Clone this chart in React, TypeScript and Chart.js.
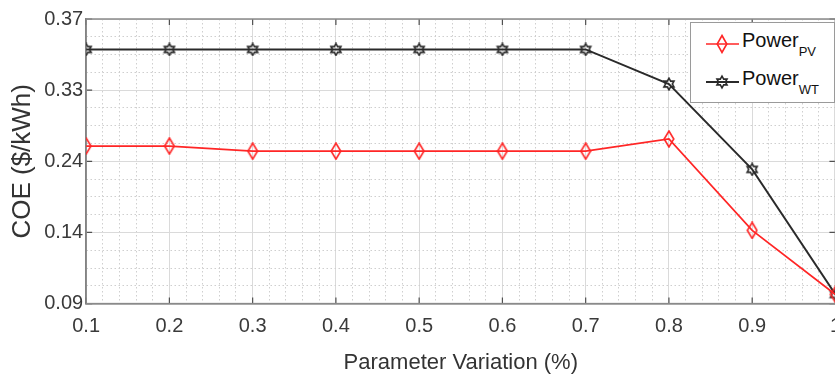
import React, { useEffect, useRef } from "react";
import { Chart, registerables } from "chart.js";

Chart.register(...registerables);

// ---- data ----
const xValues = [0.1, 0.2, 0.3, 0.4, 0.5, 0.6, 0.7, 0.8, 0.9, 1.0];
const xTickLabels = ["0.1", "0.2", "0.3", "0.4", "0.5", "0.6", "0.7", "0.8", "0.9", "1"];
const yTickLabels = ["0.09", "0.14", "0.24", "0.33", "0.37"];
const powerPV = [0.245, 0.245, 0.24, 0.24, 0.24, 0.24, 0.24, 0.252, 0.162, 0.099];
const powerWT = [0.34, 0.34, 0.34, 0.34, 0.34, 0.34, 0.34, 0.306, 0.222, 0.099];
const seriesBase = "Power";
const seriesSubs = ["PV", "WT"];
const xTitle = "Parameter Variation (%)";
const yTitle = "COE ($/kWh)";

const FONT = '"Liberation Sans", Arial, Helvetica, sans-serif';
const RED = "#ff2626";
const DARK = "#2a2a2a";

function makeDiamond(): HTMLCanvasElement {
  const c = document.createElement("canvas");
  c.width = 12;
  c.height = 18;
  const g = c.getContext("2d")!;
  g.strokeStyle = RED;
  g.lineWidth = 1.6;
  g.beginPath();
  g.moveTo(6, 1);
  g.lineTo(10.8, 9);
  g.lineTo(6, 17);
  g.lineTo(1.2, 9);
  g.closePath();
  g.stroke();
  return c;
}

function hexPoints(cx: number, cy: number, ro: number): [number, number][] {
  const ri = ro / Math.sqrt(3);
  const pts: [number, number][] = [];
  for (let i = 0; i < 12; i++) {
    const ang = -Math.PI / 2 + (i * Math.PI) / 6;
    const r = i % 2 === 0 ? ro : ri;
    pts.push([cx + r * Math.cos(ang), cy + r * Math.sin(ang)]);
  }
  return pts;
}

function makeHexagram(): HTMLCanvasElement {
  const c = document.createElement("canvas");
  c.width = 14;
  c.height = 14;
  const g = c.getContext("2d")!;
  g.strokeStyle = DARK;
  g.lineWidth = 1.6;
  g.beginPath();
  hexPoints(7, 7, 5.8).forEach(([x, y], i) => (i === 0 ? g.moveTo(x, y) : g.lineTo(x, y)));
  g.closePath();
  g.stroke();
  return c;
}

const isMajorX = (v: number) => Math.abs(v * 10 - Math.round(v * 10)) < 1e-6;

const framePlugin = {
  id: "frame",
  beforeDatasetsDraw(chart: any) {
    const { ctx, chartArea: a, scales } = chart;
    ctx.save();
    ctx.strokeStyle = "#505050";
    ctx.lineWidth = 1.2;
    const L = 6;
    ctx.beginPath();
    xValues.forEach((v) => {
      const px = scales.x.getPixelForValue(v);
      ctx.moveTo(px, a.bottom);
      ctx.lineTo(px, a.bottom - L);
      ctx.moveTo(px, a.top);
      ctx.lineTo(px, a.top + L);
    });
    yTickLabels.forEach((_, i) => {
      const py = scales.y.getPixelForValue(0.09 + i * 0.07);
      ctx.moveTo(a.left, py);
      ctx.lineTo(a.left + L, py);
      ctx.moveTo(a.right, py);
      ctx.lineTo(a.right - L, py);
    });
    ctx.stroke();
    ctx.strokeStyle = "#8a8a8a";
    ctx.lineWidth = 1.5;
    ctx.strokeRect(a.left, a.top, a.right - a.left, a.bottom - a.top);
    ctx.restore();
  },
};

function LegendIcon({ kind }: { kind: "pv" | "wt" }) {
  const color = kind === "pv" ? RED : DARK;
  return (
    <svg width={36} height={20} style={{ position: "absolute", left: 13, top: 0 }}>
      <line x1={2} y1={10} x2={35} y2={10} stroke={color} strokeWidth={kind === "pv" ? 1.6 : 1.8} />
      {kind === "pv" ? (
        <polygon points="18,1.5 22.8,10 18,18.5 13.2,10" fill="none" stroke={color} strokeWidth={1.6} />
      ) : (
        <polygon
          points={hexPoints(18, 10, 5.8)
            .map(([x, y]) => `${x.toFixed(2)},${y.toFixed(2)}`)
            .join(" ")}
          fill="none"
          stroke={color}
          strokeWidth={1.6}
        />
      )}
    </svg>
  );
}

function Legend() {
  const rows: { kind: "pv" | "wt"; top: number }[] = [
    { kind: "pv", top: 11 },
    { kind: "wt", top: 49 },
  ];
  return (
    <div
      style={{
        position: "absolute",
        left: 690,
        top: 22,
        width: 145,
        height: 81,
        boxSizing: "border-box",
        border: "1.5px solid #9a9a9a",
        background: "#fff",
        fontFamily: FONT,
        color: "#111",
      }}
    >
      {rows.map((r, i) => (
        <div key={r.kind} style={{ position: "absolute", left: 0, top: r.top, width: 140, height: 20 }}>
          <LegendIcon kind={r.kind} />
          <div
            style={{
              position: "absolute",
              left: 51,
              top: -4,
              fontSize: 20,
              lineHeight: "20px",
              whiteSpace: "nowrap",
            }}
          >
            {seriesBase}
            <span style={{ fontSize: 13, position: "relative", top: 9 }}>{seriesSubs[i]}</span>
          </div>
        </div>
      ))}
    </div>
  );
}

export default function App() {
  const ref = useRef<HTMLCanvasElement | null>(null);

  useEffect(() => {
    if (!ref.current) return;
    const diamond = makeDiamond();
    const hex = makeHexagram();
    const chart = new Chart(ref.current, {
      type: "line",
      data: {
        datasets: [
          {
            label: seriesBase + seriesSubs[0],
            data: xValues.map((x, i) => ({ x, y: powerPV[i] })),
            borderColor: RED,
            borderWidth: 1.7,
            pointStyle: diamond as any,
            pointRadius: 6,
            tension: 0,
          },
          {
            label: seriesBase + seriesSubs[1],
            data: xValues.map((x, i) => ({ x, y: powerWT[i] })),
            borderColor: DARK,
            borderWidth: 1.9,
            pointStyle: hex as any,
            pointRadius: 6,
            tension: 0,
          },
        ],
      },
      options: {
        responsive: false,
        animation: false,
        events: [],
        layout: { padding: { top: 19, left: 6, right: 0, bottom: 0 } },
        plugins: {
          legend: { display: false },
          tooltip: { enabled: false },
        },
        scales: {
          x: {
            type: "linear",
            min: 0.1,
            max: 1.0,
            ticks: {
              stepSize: 0.02,
              autoSkip: false,
              maxRotation: 0,
              padding: 11,
              color: "#3a3a3a",
              font: { family: FONT, size: 20 },
              callback: (v: any) => (isMajorX(Number(v)) ? xTickLabels[Math.round(Number(v) * 10) - 1] : ""),
            },
            grid: {
              drawTicks: false,
              lineWidth: 1,
              color: (c: any) => (c.tick && isMajorX(c.tick.value) ? "#dadada" : "#cfcfcf"),
            },
            border: {
              display: true,
              color: "#7a7a7a",
              width: 1.5,
              dash: (c: any) => (c.tick && !isMajorX(c.tick.value) ? [1.5, 2.5] : []),
            } as any,
            title: {
              display: true,
              text: xTitle,
              color: "#333",
              font: { family: FONT, size: 22 },
              padding: { top: 0, bottom: 0 },
            },
          },
          y: {
            type: "linear",
            min: 0.09,
            max: 0.37,
            ticks: {
              stepSize: 0.0175,
              autoSkip: false,
              padding: 3,
              color: "#3a3a3a",
              font: { family: FONT, size: 20 },
              callback: (_v: any, i: number) => (i % 4 === 0 ? yTickLabels[i / 4] : ""),
            },
            grid: {
              drawTicks: false,
              lineWidth: 1,
              color: (c: any) => (c.index % 4 === 0 ? "#dadada" : "#cfcfcf"),
            },
            border: {
              display: true,
              color: "#7a7a7a",
              width: 1.5,
              dash: (c: any) => (c.tick && c.index % 4 !== 0 ? [1.5, 2.5] : []),
            } as any,
            title: {
              display: true,
              text: yTitle,
              color: "#333",
              font: { family: FONT, size: 26 },
              padding: { top: 1, bottom: 3 },
            },
          },
        },
      },
      plugins: [framePlugin],
    });
    return () => chart.destroy();
  }, []);

  return (
    <div
      style={{
        position: "absolute",
        left: 0,
        top: 0,
        width: 835,
        height: 376,
        overflow: "hidden",
        background: "#fff",
      }}
    >
      <canvas ref={ref} width={852} height={376} style={{ display: "block" }} />
      <Legend />
    </div>
  );
}
